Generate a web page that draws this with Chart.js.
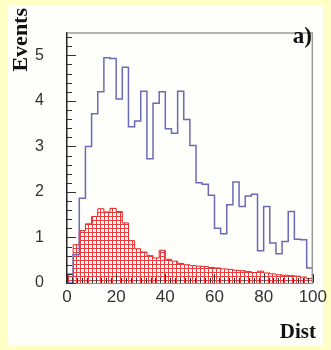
<!DOCTYPE html>
<html>
<head>
<meta charset="utf-8">
<script src="https://cdn.jsdelivr.net/npm/chart.js@4"></script>
<style>
  html, body { margin: 0; padding: 0; background: #ffffc8; }
  canvas { display: block; }
</style>
</head>
<body>
<canvas id="grafica" width="331" height="350"></canvas>
<script>
// bin edges (Dist), width 2.5
const binEdges = [0, 2.5, 5, 7.5, 10, 12.5, 15, 17.5, 20, 22.5,
    25, 27.5, 30, 32.5, 35, 37.5, 40, 42.5, 45, 47.5,
    50, 52.5, 55, 57.5, 60, 62.5, 65, 67.5, 70, 72.5,
    75, 77.5, 80, 82.5, 85, 87.5, 90, 92.5, 95, 97.5, 100];

// blue outline histogram
const eventsAll = [0, 0.62, 1.86, 3.0, 3.72, 4.2, 4.95, 4.93, 4.04, 4.74,
    3.43, 3.56, 4.21, 2.73, 3.95, 4.2, 3.39, 3.29, 4.21, 3.59,
    3.02, 2.2, 2.17, 1.93, 1.2, 1.08, 1.72, 2.22, 1.68, 1.91,
    1.95, 0.71, 1.68, 0.88, 0.64, 0.91, 1.57, 0.96, 0.95, 0.33];

// red hatched histogram
const eventsBg = [0.2, 0.84, 1.15, 1.3, 1.46, 1.63, 1.56, 1.64, 1.57, 1.32,
    0.93, 0.75, 0.68, 0.6, 0.55, 0.72, 0.52, 0.48, 0.43, 0.4,
    0.38, 0.37, 0.36, 0.34, 0.33, 0.31, 0.3, 0.28, 0.27, 0.25,
    0.23, 0.26, 0.22, 0.2, 0.18, 0.17, 0.16, 0.15, 0.13, 0.1];

const xTicks = [0, 20, 40, 60, 80, 100];
const yTicks = [0, 1, 2, 3, 4, 5];

// turn bin contents into step points
function pasos(vals) {
    const n = vals.length;
    const pts = [{x: binEdges[0], y: 0}];
    vals.forEach((v, i) => pts.push({x: binEdges[i], y: v}));
    pts.push({x: binEdges[n], y: vals[n - 1]});
    pts.push({x: binEdges[n], y: 0});
    return pts;
}

function trama() {
    const c = document.createElement("canvas");
    c.width = 4; c.height = 4;
    const g = c.getContext("2d");
    g.fillStyle = "#f03c3c";
    g.fillRect(0, 0, 4, 4);
    g.fillStyle = "#ffffff";
    g.fillRect(1, 1, 3, 3);
    return g.createPattern(c, "repeat");
}

const marco = {
    id: "marco",
    beforeDraw(chart) {
        const ctx = chart.ctx;
        ctx.save();
        ctx.fillStyle = "#ffffc8";
        ctx.fillRect(0, 0, chart.width, chart.height);
        ctx.fillStyle = "#fefefb";
        ctx.fillRect(8, 5, 315, 340);
        ctx.restore();
    },
    afterDatasetsDraw(chart) {
        const {ctx, chartArea: a, scales: {x, y}} = chart;
        ctx.save();

        // top and right frame
        ctx.strokeStyle = "#9a9a9a";
        ctx.lineWidth = 1.5;
        ctx.beginPath();
        ctx.moveTo(a.left, a.top + 0.5);
        ctx.lineTo(a.right - 0.5, a.top + 0.5);
        ctx.lineTo(a.right - 0.5, a.bottom);
        ctx.stroke();

        // inner ticks
        ctx.strokeStyle = "#333";
        ctx.lineWidth = 1;
        ctx.beginPath();
        for (let i = 0; i <= 27; i++) {
            const py = Math.round(y.getPixelForValue(i * 0.2)) + 0.5;
            const len = i % 5 === 0 ? 9 : 5;
            ctx.moveTo(a.left, py);
            ctx.lineTo(a.left + len, py);
        }
        for (let i = 0; i <= 50; i++) {
            const px = Math.round(x.getPixelForValue(i * 2)) + 0.5;
            const len = i % 10 === 0 ? 9 : 5;
            ctx.moveTo(px, a.bottom);
            ctx.lineTo(px, a.bottom - len);
        }
        ctx.stroke();

        // texts
        ctx.fillStyle = "#111";
        ctx.font = "bold 23px 'Liberation Serif'";
        ctx.textAlign = "right";
        ctx.textBaseline = "alphabetic";
        ctx.fillText("a)", 312, 43);
        ctx.font = "bold 21px 'Liberation Serif'";
        ctx.fillText("Dist", 316, 338);
        ctx.translate(27, 8);
        ctx.rotate(-Math.PI / 2);
        ctx.font = "bold 22px 'Liberation Serif'";
        ctx.fillText("Events", 0, 0);
        ctx.restore();
    }
};

const ctx = document.getElementById("grafica");

const grafica = new Chart(ctx, {
    type: "line",
    data: {
        datasets: [{
            label: "all",
            data: pasos(eventsAll),
            stepped: true,
            borderColor: "#6a6ab8",
            borderWidth: 1.5,
            pointRadius: 0,
            fill: false
        }, {
            label: "bg",
            data: pasos(eventsBg),
            stepped: true,
            borderColor: "#e02828",
            borderWidth: 1,
            backgroundColor: trama(),
            pointRadius: 0,
            fill: "origin"
        }]
    },
    options: {
        responsive: false,
        animation: false,
        layout: {
            padding: {left: 0, top: 13, right: 17, bottom: 0}
        },
        plugins: {
            legend: {display: false},
            tooltip: {enabled: false}
        },
        scales: {
            x: {
                type: "linear",
                min: 0,
                max: 100,
                afterFit(s) { s.height = 67; },
                afterBuildTicks(s) { s.ticks = xTicks.map(v => ({value: v})); },
                grid: {display: false, drawTicks: false},
                border: {display: true, color: "#222", width: 1.5},
                ticks: {
                    color: "#333",
                    padding: 4,
                    maxRotation: 0,
                    font: {family: "'Liberation Sans'", size: 17}
                }
            },
            y: {
                min: 0,
                max: 5.5,
                afterFit(s) { s.width = 67; },
                afterBuildTicks(s) { s.ticks = yTicks.map(v => ({value: v})); },
                grid: {display: false, drawTicks: false},
                border: {display: true, color: "#222", width: 1.5},
                ticks: {
                    color: "#333",
                    padding: 23,
                    font: {family: "'Liberation Sans'", size: 16}
                }
            }
        }
    },
    plugins: [marco]
});
</script>
</body>
</html>
